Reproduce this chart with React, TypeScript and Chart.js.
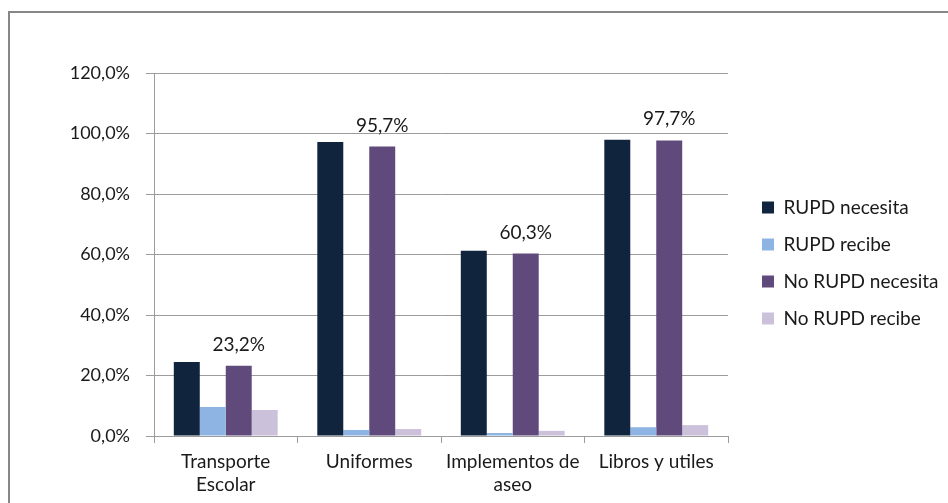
import React, { useEffect, useRef } from 'react';
import { Chart, registerables } from 'chart.js';

Chart.register(...registerables);

const categories: (string | string[])[] = [
  ['Transporte', 'Escolar'],
  'Uniformes',
  ['Implementos de', 'aseo'],
  'Libros y utiles',
];
const seriesNames = ['RUPD necesita', 'RUPD recibe', 'No RUPD necesita', 'No RUPD recibe'];
const rupdNecesita = [24.5, 97.2, 61.2, 97.9];
const rupdRecibe = [9.6, 2.0, 1.0, 2.9];
const noRupdNecesita = [23.2, 95.7, 60.3, 97.7];
const noRupdRecibe = [8.6, 2.3, 1.7, 3.6];
const seriesColors = ['#10243E', '#8DB4E2', '#604A7B', '#CCC1DA'];
const yMin = 0;
const yMax = 120;
const yStep = 20;

const FONT = 'Lato, "Open Sans", sans-serif';
const TEXT = '#1a1a1a';
const GRID = '#9C9C9C';

const fmt = (v: number) => v.toFixed(1).replace('.', ',') + '%';

const dataLabels = {
  id: 'dataLabels',
  afterDatasetsDraw(chart: any) {
    const ctx = chart.ctx;
    const meta = chart.getDatasetMeta(2);
    const ds = chart.data.datasets[2];
    ctx.save();
    ctx.font = `19px ${FONT}`;
    ctx.fillStyle = TEXT;
    ctx.textAlign = 'center';
    ctx.textBaseline = 'alphabetic';
    meta.data.forEach((el: any, i: number) => {
      ctx.fillText(fmt(ds.data[i] as number), el.x, el.y - 15);
    });
    ctx.restore();
  },
};

const legendTweak = {
  id: 'legendTweak',
  beforeLayout(chart: any) {
    const lg = chart.legend;
    if (lg && !lg.__patched) {
      const orig = lg.fit;
      lg.fit = function () {
        orig.call(this);
        this.width = 220;
      };
      lg.__patched = true;
    }
  },
  afterLayout(chart: any) {
    const lg = chart.legend;
    if (lg) {
      lg.left += 16;
      lg.right += 16;
      lg.top -= 25;
      lg.bottom -= 25;
    }
  },
};

export default function App() {
  const ref = useRef<HTMLCanvasElement | null>(null);

  useEffect(() => {
    if (!ref.current) return;
    const values = [rupdNecesita, rupdRecibe, noRupdNecesita, noRupdRecibe];
    const chart = new Chart(ref.current, {
      type: 'bar',
      data: {
        labels: categories as any,
        datasets: seriesNames.map((name, i) => ({
          label: name,
          data: values[i],
          backgroundColor: seriesColors[i],
          borderWidth: 0,
          categoryPercentage: 0.724,
          barPercentage: 1,
        })),
      },
      options: {
        responsive: false,
        animation: false,
        devicePixelRatio: 1,
        layout: { padding: { top: 73, left: 0, right: 0, bottom: 0 } },
        plugins: {
          tooltip: { enabled: false },
          legend: {
            position: 'right',
            labels: {
              boxWidth: 12,
              boxHeight: 12,
              padding: 18,
              color: TEXT,
              font: { family: FONT, size: 19 },
            },
          },
        },
        scales: {
          x: {
            grid: {
              display: true,
              drawOnChartArea: false,
              drawTicks: true,
              tickLength: 7,
              color: GRID,
            },
            border: { display: true, color: GRID },
            ticks: {
              color: TEXT,
              padding: 7,
              maxRotation: 0,
              autoSkip: false,
              font: { family: FONT, size: 19, lineHeight: 1.21 },
            },
            afterFit(scale: any) {
              scale.height = 67;
            },
          },
          y: {
            min: yMin,
            max: yMax,
            grid: { color: GRID, tickLength: 8 },
            border: { display: true, color: GRID },
            ticks: {
              stepSize: yStep,
              padding: 16,
              color: TEXT,
              font: { family: FONT, size: 18 },
              callback: (v: any) => fmt(Number(v)),
            },
            afterFit(scale: any) {
              scale.width = 154;
            },
          },
        },
      },
      plugins: [dataLabels, legendTweak],
    });
    return () => chart.destroy();
  }, []);

  return (
    <div
      style={{
        position: 'fixed',
        left: 0,
        top: 0,
        width: 948,
        height: 503,
        overflow: 'hidden',
        background: '#fff',
      }}
    >
      <div
        style={{
          position: 'absolute',
          left: 8,
          top: 11,
          width: 1200,
          height: 1000,
          border: '2px solid #878787',
          boxSizing: 'border-box',
        }}
      />
      <canvas
        ref={ref}
        width={948}
        height={503}
        style={{ position: 'absolute', left: 0, top: 0, width: 948, height: 503 }}
      />
    </div>
  );
}
